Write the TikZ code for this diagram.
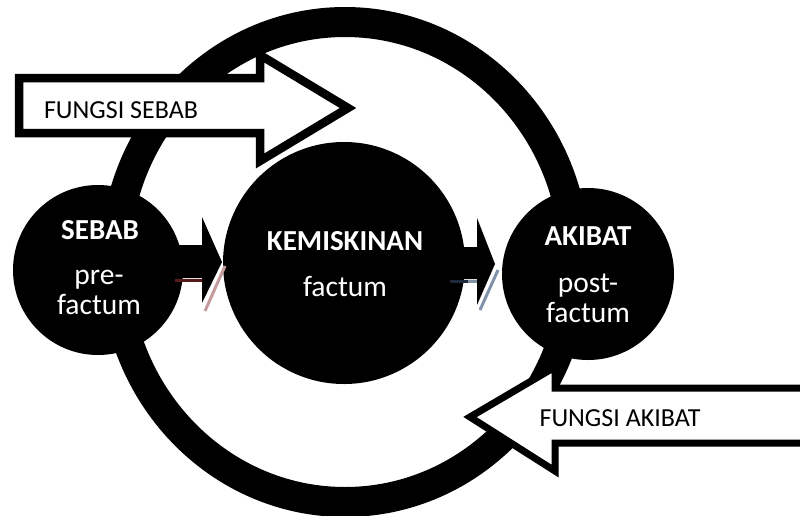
\documentclass[tikz,border=0pt]{standalone}
\usepackage{fontspec}
\setmainfont{Carlito}
\definecolor{shredA}{RGB}{90,25,25}
\definecolor{shredB}{RGB}{195,155,155}
\definecolor{shblA}{RGB}{30,42,60}
\definecolor{shblB}{RGB}{130,145,170}
\tikzset{
  bigcircle/.style={circle, fill=black, inner sep=0pt},
  circtext/.style={text=white, font=\fontsize{29.5}{30}\selectfont, align=center, inner sep=0pt},
  circtitle/.style={text=white, font=\fontsize{29}{30}\selectfont\bfseries, inner sep=0pt},
  fatarrow/.style={draw=black, fill=white, line width=8.5pt, miter limit=10},
  arrowtext/.style={font=\fontsize{26}{28}\selectfont, inner sep=0pt},
  ring/.style={draw=black, line width=30pt}
}
\begin{document}
\begin{tikzpicture}[x=1pt,y=-1pt]
\useasboundingbox[fill=white] (0,0) rectangle (800,515);
% ring
\draw[ring] (345,262) ellipse [x radius=230, y radius=240];
% circles
\node[bigcircle, minimum size=170pt] (sebab) at (98,270) {};
\node[bigcircle, minimum size=242pt] (kemis) at (344,263) {};
\node[bigcircle, minimum size=172pt] (akibat) at (588,274) {};
% texts in circles
\node[circtitle] (tsebab) at (100,230) {SEBAB};
\node[circtext] (tsebab2) at (99,292) {pre-\\[0pt]factum};
\node[circtitle] (tkemis) at (345,241) {KEMISKINAN};
\node[circtext] (tkemis2) at (345,286) {factum};
\node[circtitle] (takibat) at (588,236) {AKIBAT};
\node[circtext] (takibat2) at (588,298) {post-\\[0pt]factum};
% small arrows with faint shadows
\draw[shredA, line width=3pt] (175,280) -- (202,280);
\draw[shredB, line width=3pt] (202,280) -- (206,280);
\draw[shredB, line width=3pt] (225,266) -- (205,311);
\fill[black] (150,245) -- (202,245) -- (202,217) -- (222,262) -- (202,303) -- (202,278) -- (150,278) -- cycle;
\draw[shblA, line width=3pt] (450,281) -- (468,281);
\draw[shblB, line width=3pt] (468,281) -- (479,281);
\draw[shblB, line width=3pt] (498,270) -- (480,310);
\fill[black] (440,247) -- (477,247) -- (477,218) -- (495,264) -- (477,305) -- (477,279) -- (440,279) -- cycle;
% FUNGSI SEBAB arrow
\draw[fatarrow] (19,78) -- (260,78) -- (260,55) -- (348,108) -- (260,161) -- (260,133) -- (19,133) -- cycle;
\node[arrowtext] (fsebab) at (121,110) {FUNGSI SEBAB};
% FUNGSI AKIBAT arrow
\draw[fatarrow, line width=7pt] (830,388) -- (555,388) -- (555,367) -- (470,417) -- (555,471) -- (555,443) -- (830,443) -- cycle;
\node[arrowtext] (fakibat) at (620,418) {FUNGSI AKIBAT};
\end{tikzpicture}
\end{document}
